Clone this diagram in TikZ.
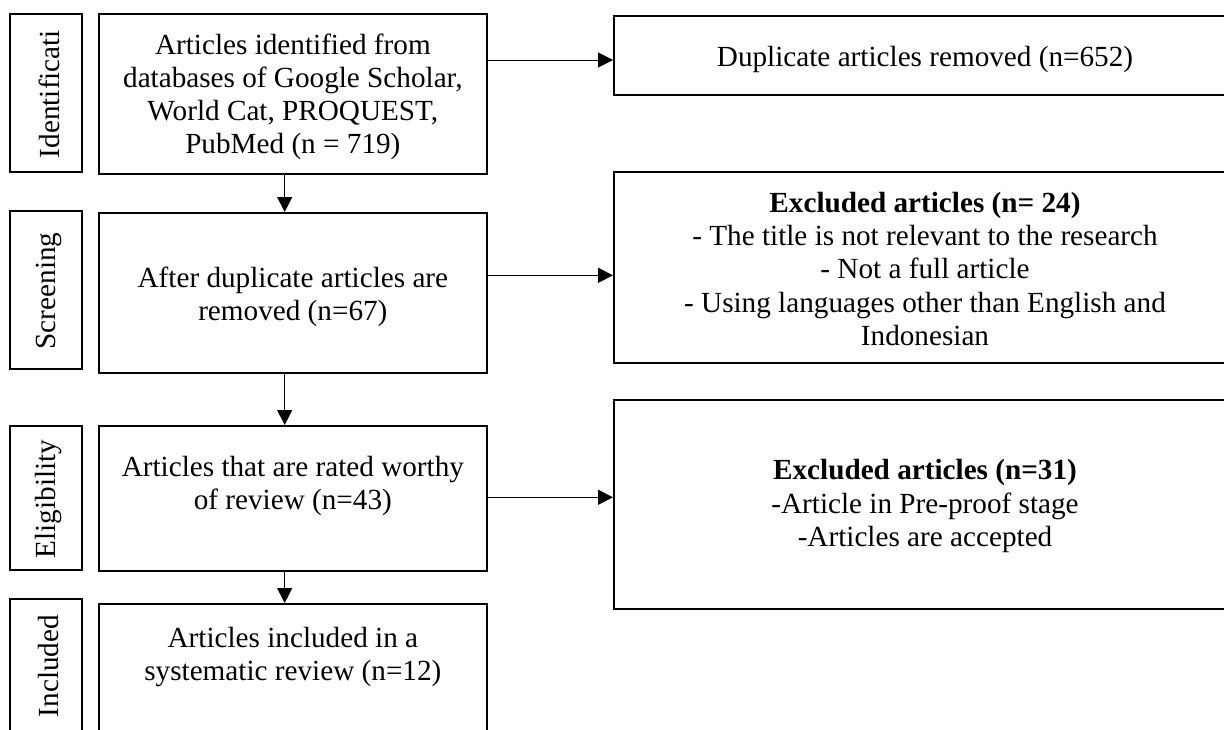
\documentclass[tikz,border=0pt]{standalone}
\usepackage{fontspec}
\setmainfont{Liberation Serif}
\usetikzlibrary{arrows.meta}
\begin{document}
\begin{tikzpicture}[x=0.5pt,y=-0.5pt,
  sz/.style n args={2}{minimum width=#1*0.5pt, minimum height=#2*0.5pt},
  box/.style={draw, line width=1pt, inner sep=0pt},
  txt/.style={align=center, inner sep=0pt, font=\fontsize{14.6pt}{16.6pt}\selectfont},
  lbl/.style={rotate=90, inner sep=0pt, font=\fontsize{14.6pt}{16.6pt}\selectfont},
  arr/.style={line width=0.5pt, -{Triangle[length=7.5pt,width=7.5pt]}}]
\useasboundingbox (0,0) rectangle (1224,729);
\clip (0,0) rectangle (1224,729);
% stage labels
\node[box, sz={71.7}{158}] (lab1) at (45.9,93) {};
\node[box, sz={71.7}{158}] (lab2) at (45.9,290) {};
\node[box, sz={71.7}{144}] (lab3) at (45.9,498) {};
\node[box, sz={71.7}{162}] (lab4) at (45.9,680) {};
\node[lbl] (l1) at (49,94) {Identificati};
\node[lbl] (l2) at (49,291) {Screening};
\node[lbl] (l3) at (49,499) {Eligibility};
\node[lbl] (l4) at (49,666) {Included};
% main boxes
\node[box, sz={388.3}{160}] (b1) at (292.85,94) {};
\node[box, sz={388.3}{160}] (b2) at (292.85,293) {};
\node[box, sz={388.3}{144.5}] (b3) at (292.85,498.25) {};
\node[box, sz={388.3}{160}] (b4) at (292.85,684) {};
\node[txt] (t1) at (292.85,97) {Articles identified from\\databases of Google Scholar,\\World Cat, PROQUEST,\\PubMed (n = 719)};
\node[txt] (t2) at (292.85,297) {After duplicate articles are\\removed (n=67)};
\node[txt] (t3) at (292.85,486) {Articles that are rated worthy\\of review (n=43)};
\node[txt] (t4) at (292.85,657) {Articles included in a\\systematic review (n=12)};
% right boxes
\node[box, sz={622}{79}] (r1) at (925,55.5) {};
\node[box, sz={622}{191}] (r2) at (925,267.5) {};
\node[box, sz={622}{209}] (r3) at (925,504.5) {};
\node[txt] (rt1) at (925,59) {Duplicate articles removed (n=652)};
\node[txt] (rt2) at (925,269) {\textbf{Excluded articles (n= 24)}\\- The title is not relevant to the research\\- Not a full article\\- Using languages other than English and\\Indonesian};
\node[txt] (rt3) at (925,506) {\textbf{Excluded articles (n=31)}\\-Article in Pre-proof stage\\-Articles are accepted};
% connectors
\coordinate (ax) at (284.7,0);
\coordinate (h1) at (0,60);
\coordinate (h2) at (0,275.3);
\coordinate (h3) at (0,497.3);
\draw[arr] (b1.south -| ax) -- (b2.north -| ax);
\draw[arr] (b2.south -| ax) -- (b3.north -| ax);
\draw[arr] (b3.south -| ax) -- (b4.north -| ax);
\draw[arr] (b1.east |- h1) -- (r1.west |- h1);
\draw[arr] (b2.east |- h2) -- (r2.west |- h2);
\draw[arr] (b3.east |- h3) -- (r3.west |- h3);
\end{tikzpicture}
\end{document}
